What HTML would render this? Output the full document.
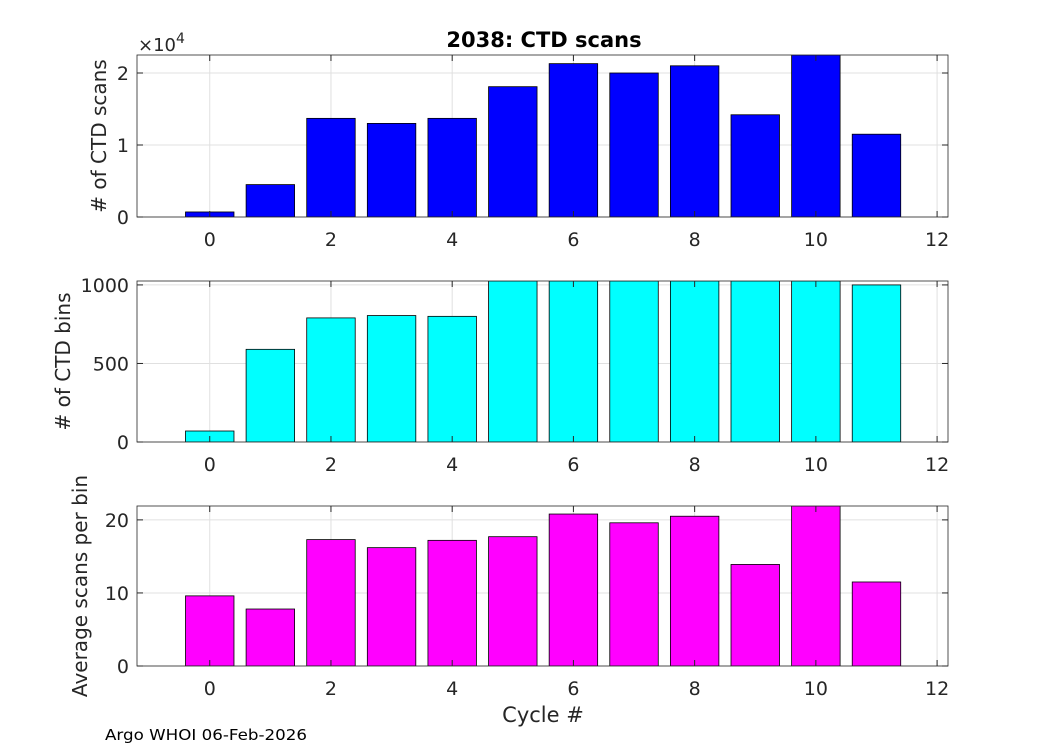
<!DOCTYPE html>
<html><head><meta charset="utf-8"><style>
body{margin:0;background:#fff;}
svg{display:block;font-family:"DejaVu Sans","Liberation Sans",sans-serif;}
</style></head><body>
<svg id="chart" width="1050" height="750"></svg>
<script>
const cycles=[0,1,2,3,4,5,6,7,8,9,10,11];
const scans=[700,4500,13700,13000,13700,18100,21300,20000,21000,14200,22500,11500];
const bins=[70,590,790,805,800,1025,1025,1025,1025,1025,1025,1000];
const avgScans=[9.6,7.8,17.3,16.2,17.2,17.7,20.8,19.6,20.5,13.9,21.9,11.5];
const xTicks=[0,2,4,6,8,10,12];
const ticks1=[0,1,2];const ticks2=[0,500,1000];const ticks3=[0,10,20];

const NS="http://www.w3.org/2000/svg";
const svg=document.getElementById('chart');
function mk(t,a,p){const e=document.createElementNS(NS,t);for(const k in a)e.setAttribute(k,a[k]);(p||svg).appendChild(e);return e;}
const X0=137,X1=948,xmin=-1.2,xmax=12.18;
const xs=v=>X0+(v-xmin)/(xmax-xmin)*(X1-X0);
const panels=[
 {top:55,bot:217,ymax:2.25e4,vals:scans,ticks:ticks1,scale:1e4,color:'#0000ff',label:'# of CTD scans',name:'scans'},
 {top:281,bot:442,ymax:1025,vals:bins,ticks:ticks2,scale:1,color:'#00ffff',label:'# of CTD bins',name:'bins'},
 {top:506,bot:666,ymax:21.9,vals:avgScans,ticks:ticks3,scale:1,color:'#ff00ff',label:'Average scans per bin',name:'avg'}
];
panels.forEach((P,pi)=>{
 const g=mk('g',{});
 
 
 const ys=v=>P.bot-v/P.ymax*(P.bot-P.top);
 mk('rect',{x:X0,y:P.top,width:X1-X0,height:P.bot-P.top,fill:'#fff'},g);
 xTicks.forEach(t=>{mk('line',{x1:xs(t),x2:xs(t),y1:P.top,y2:P.bot,stroke:'#e0e0e0','stroke-width':1},g);});
 P.ticks.forEach(t=>{mk('line',{x1:X0,x2:X1,y1:ys(t*P.scale),y2:ys(t*P.scale),stroke:'#e0e0e0','stroke-width':1},g);});
 const cp=mk('clipPath',{id:'cp'+pi},g);mk('rect',{x:X0,y:P.top,width:X1-X0,height:P.bot-P.top},cp);
 const bg=mk('g',{'clip-path':'url(#cp'+pi+')'},g);
 cycles.forEach((c,i)=>{
  const y=ys(P.vals[i]);
  const r=mk('rect',{x:xs(c-0.4),y:y,width:xs(c+0.4)-xs(c-0.4),height:P.bot-y,fill:P.color,stroke:'#000','stroke-width':0.8},bg);
  
  
 });
 mk('rect',{x:X0,y:P.top,width:X1-X0,height:P.bot-P.top,fill:'none',stroke:'#262626','stroke-width':0.8},g);
 xTicks.forEach(t=>{
  mk('line',{x1:xs(t),x2:xs(t),y1:P.bot,y2:P.bot-6,stroke:'#262626'},g);
  mk('line',{x1:xs(t),x2:xs(t),y1:P.top,y2:P.top+6,stroke:'#262626'},g);
  const tx=mk('text',{x:xs(t),y:P.bot+29,'text-anchor':'middle','font-size':19,fill:'#262626'},g);tx.textContent=t;
  
 });
 P.ticks.forEach(t=>{
  const y=ys(t*P.scale);
  mk('line',{x1:X0,x2:X0+6,y1:y,y2:y,stroke:'#262626'},g);
  mk('line',{x1:X1,x2:X1-6,y1:y,y2:y,stroke:'#262626'},g);
  const tx=mk('text',{x:X0-8,y:y+7,'text-anchor':'end','font-size':19,fill:'#262626'},g);tx.textContent=t;
  
 });
 const cy=(P.top+P.bot)/2;
 const yl=mk('text',{x:0,y:0,transform:`translate(${pi==2?87:pi==1?70:106},${cy}) rotate(-90)`,'text-anchor':'middle','font-size':20,fill:'#262626'},g);
 yl.textContent=P.label;
});
let t=mk('text',{x:544,y:47,'text-anchor':'middle','font-size':21,'font-weight':'bold',fill:'#000'});t.textContent='2038: CTD scans';

t=mk('text',{x:138,y:51,'font-size':18,fill:'#262626'});t.innerHTML='×10<tspan dy="-8" font-size="14">4</tspan>';

t=mk('text',{x:543,y:722,'text-anchor':'middle','font-size':21,fill:'#262626'});t.textContent='Cycle #';

t=mk('text',{x:105,y:740,'font-size':15,fill:'#000',textLength:202,lengthAdjust:'spacingAndGlyphs'});t.textContent='Argo WHOI 06-Feb-2026';

</script>
</body></html>
